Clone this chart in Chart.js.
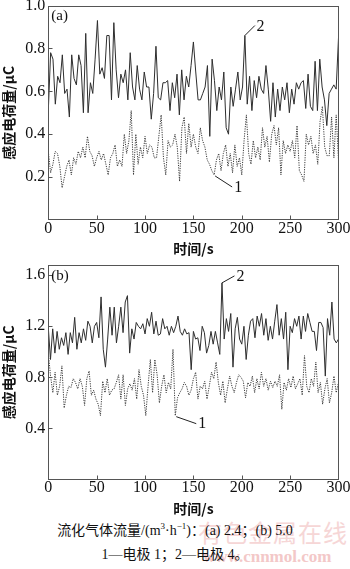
<!DOCTYPE html>
<html><head><meta charset="utf-8">
<script src="https://cdn.jsdelivr.net/npm/chart.js@4/dist/chart.umd.min.js"></script>
<style>
html,body{margin:0;padding:0;background:#fff;}
body{width:350px;height:569px;position:relative;overflow:hidden;font-family:"Liberation Serif","Noto Sans CJK SC",serif;color:#111;}
canvas{position:absolute;left:0;}
#ca{top:0;}
#cb{top:258px;}
.cap{position:absolute;left:0;width:350px;text-align:center;font-size:14px;line-height:16px;white-space:nowrap;}
.wm{position:absolute;white-space:nowrap;}
sup{font-size:9px;vertical-align:6px;line-height:0;}
</style></head>
<body>
<div class="wm" style="left:198px;top:514px;font-size:24px;letter-spacing:1px;color:#f6d6d6;font-family:'Noto Sans CJK SC';">有色金属在线</div>
<div class="wm" style="left:203px;top:547px;font-size:17px;font-weight:bold;color:#f3c8c8;">www.cnnmol.com</div>
<canvas id="ca" width="350" height="258"></canvas>
<canvas id="cb" width="350" height="262"></canvas>
<div class="cap" style="top:523px;">流化气体流量/(m<sup>3</sup>·h<sup>−1</sup>)：(a) 2.4；(b) 5.0</div>
<div class="cap" style="top:547px;">1—电极 1；2—电极 4。</div>
<script>
// ---- data ----
const timeRange = [0, 300];
const xTicks = [0, 50, 100, 150, 200, 250, 300];
const yTicksA = [0.2, 0.4, 0.6, 0.8, 1.0];
const yTicksB = [0.4, 0.8, 1.2, 1.6];
const seriesNames = ['1', '2'];

// (a) electrode 4 (curve 2, solid)
const a_curve2 = [0.51,0.78,0.75,0.54,0.67,0.64,0.77,0.59,0.61,0.48,
0.77,0.66,0.63,0.77,0.72,0.50,0.87,0.50,0.64,0.59,
0.75,0.93,0.68,0.71,0.66,0.86,0.86,0.56,0.92,0.70,
0.57,0.68,0.64,0.70,0.56,0.78,0.62,0.56,0.72,0.61,
0.56,0.69,0.62,0.62,0.47,0.59,0.81,0.57,0.56,0.64,
0.64,0.65,0.51,0.64,0.57,0.68,0.49,0.70,0.56,0.67,
0.62,0.72,0.83,0.69,0.56,0.56,0.59,0.62,0.72,0.39,
0.75,0.65,0.51,0.62,0.56,0.69,0.43,0.40,0.62,0.53,
0.61,0.69,0.56,0.62,0.86,0.54,0.67,0.51,0.65,0.57,
0.67,0.61,0.59,0.72,0.61,0.46,0.64,0.48,0.61,0.51,
0.62,0.56,0.64,0.50,0.61,0.54,0.64,0.61,0.64,0.65,
0.52,0.68,0.53,0.51,0.74,0.51,0.75,0.62,0.56,0.44,
0.59,0.61,0.63,0.61,0.85];
// (a) electrode 1 (curve 1, dotted)
const a_curve1 = [0.32,0.22,0.26,0.32,0.31,0.25,0.15,0.20,0.25,0.28,
0.21,0.29,0.26,0.32,0.29,0.34,0.29,0.39,0.32,0.30,
0.25,0.29,0.32,0.28,0.31,0.26,0.21,0.29,0.31,0.35,
0.25,0.28,0.25,0.40,0.31,0.37,0.51,0.21,0.40,0.26,
0.34,0.29,0.39,0.31,0.35,0.34,0.29,0.29,0.39,0.49,
0.29,0.21,0.37,0.34,0.35,0.40,0.34,0.18,0.43,0.48,
0.31,0.45,0.34,0.40,0.34,0.31,0.43,0.37,0.34,0.28,
0.26,0.23,0.21,0.28,0.31,0.23,0.31,0.35,0.25,0.31,
0.22,0.35,0.25,0.29,0.21,0.37,0.49,0.31,0.26,0.37,
0.29,0.34,0.28,0.43,0.34,0.39,0.27,0.40,0.44,0.35,
0.43,0.21,0.37,0.31,0.35,0.32,0.37,0.29,0.44,0.23,
0.21,0.18,0.40,0.35,0.39,0.31,0.35,0.26,0.46,0.53,
0.34,0.30,0.30,0.48,0.29,0.49,0.28];
// (b) electrode 4 (curve 2, solid)
const b_curve2 = [1.19,0.94,1.18,0.99,1.16,1.02,1.11,1.05,1.15,0.98,
1.15,1.07,1.27,1.02,1.15,1.07,1.18,1.09,1.24,1.20,
1.07,1.20,1.23,1.11,1.43,1.02,0.88,1.10,1.35,1.13,
1.35,1.07,1.20,1.35,1.15,1.39,1.44,0.99,1.18,1.10,
1.23,1.20,1.18,1.22,1.14,1.26,1.20,1.31,1.14,1.24,
1.13,1.14,1.26,1.18,1.20,1.13,1.20,1.15,1.20,1.28,
1.16,1.13,1.18,1.14,1.15,0.86,1.16,1.10,1.11,1.01,
1.20,1.15,0.99,1.05,1.16,1.06,1.16,1.07,0.98,1.54,
1.10,1.26,1.16,1.30,0.88,1.18,1.27,1.10,1.06,1.20,
0.94,1.13,1.24,1.26,1.11,1.28,1.20,1.30,1.13,1.26,
1.09,1.20,1.10,1.24,1.37,1.13,1.26,1.10,1.31,0.86,
1.20,1.15,1.26,1.20,1.28,1.10,1.28,1.16,1.30,1.23,
1.16,1.16,1.01,1.23,1.23,1.19,0.81,1.26,1.13,1.39,
1.10,1.07,1.10];
// (b) electrode 1 (curve 1, dotted)
const b_curve1 = [0.99,0.81,0.68,0.84,0.66,0.73,0.89,0.56,0.66,0.73,
0.72,0.79,0.76,0.71,0.79,0.73,0.58,0.79,0.85,0.66,
0.70,0.63,0.59,0.50,0.77,0.68,0.79,0.66,0.70,0.71,
0.76,0.82,0.63,0.82,0.58,0.71,0.75,0.70,0.79,0.63,
0.86,0.73,0.66,0.50,0.73,0.94,0.68,0.94,0.82,0.60,
0.73,0.82,0.68,0.76,0.71,1.02,0.50,0.64,0.68,0.71,
0.76,0.73,0.66,0.70,0.79,0.84,0.63,0.73,0.71,0.77,
0.63,0.73,0.84,0.79,0.92,0.76,0.66,0.77,0.60,0.71,
0.81,0.73,0.68,0.76,0.82,0.80,0.77,0.64,0.76,0.73,
0.81,0.68,0.79,0.71,0.84,0.73,0.79,0.70,0.77,0.72,
0.77,0.73,0.82,0.55,0.76,0.70,0.79,0.72,0.81,0.71,
0.75,0.79,0.66,0.97,0.73,0.68,0.79,0.73,0.92,0.68,
0.76,0.59,0.71,0.79,0.60,0.68,0.81,0.68,0.76];

// evenly sampled over the time range
function toPoints(vals){
  const n = vals.length, t0 = timeRange[0], t1 = timeRange[1];
  return vals.map((v,i)=>({x: t0 + i*(t1-t0)/(n-1), y: v}));
}

const SERIF = "'Liberation Serif','Times New Roman',serif";
const CJK = "'Noto Sans CJK SC','Liberation Serif',sans-serif";

const framePlugin = {
  id: 'frame',
  afterDatasetsDraw(chart, args, opts){
    const {ctx, chartArea:a, scales:{x, y}} = chart;
    ctx.save();
    ctx.strokeStyle = '#555'; ctx.lineWidth = 1;
    const L = Math.round(a.left)+0.5, T = Math.round(a.top)+0.5, R = Math.round(a.right)-0.5, B = Math.round(a.bottom)-0.5;
    ctx.strokeRect(L, T, R-L, B-T);
    ctx.beginPath();
    opts.xt.forEach(v=>{ if (v<=x.min || v>=x.max) return; const px = Math.round(x.getPixelForValue(v))+0.5; ctx.moveTo(px,B); ctx.lineTo(px,B-4); });
    opts.yt.forEach(v=>{ const py = Math.round(y.getPixelForValue(v))+0.5; ctx.moveTo(L,py); ctx.lineTo(L+4,py); });
    ctx.stroke();
    // panel label
    ctx.fillStyle = '#111';
    ctx.font = '15px ' + SERIF;
    ctx.textAlign = 'left'; ctx.textBaseline = 'middle';
    ctx.fillText(opts.panel, a.left + 3, a.top + opts.panelDy);
    // curve annotations anchored to data points
    ctx.font = '16px ' + SERIF;
    ctx.strokeStyle = '#222';
    opts.notes.forEach(n=>{
      const el = chart.getDatasetMeta(n.ds).data[n.idx];
      const px = el.x, py = el.y;
      ctx.beginPath(); ctx.moveTo(px + n.sx, py + n.sy); ctx.lineTo(px + n.lx, py + n.ly); ctx.stroke();
      ctx.fillText(n.text, px + n.tx, py + n.ty);
    });
    ctx.restore();
  }
};

function makeChart(id, c1, c2, yMax, yStep, yt, panel, panelDy, padTop, xH, titlePadB, notes){
  return new Chart(document.getElementById(id), {
    type: 'line',
    data: { datasets: [
      { label: seriesNames[0], data: toPoints(c1), borderColor: '#3a3a3a', borderWidth: 1, borderDash: [1.2, 1.2], pointRadius: 0, tension: 0, fill: false },
      { label: seriesNames[1], data: toPoints(c2), borderColor: '#2e2e2e', borderWidth: 1, pointRadius: 0, tension: 0, fill: false }
    ]},
    options: {
      responsive: false, animation: false, events: [],
      layout: { padding: { top: padTop, right: 11.5, left: 0, bottom: 0 } },
      plugins: { legend: { display: false }, tooltip: { enabled: false },
        frame: { xt: xTicks, yt: yt, panel: panel, panelDy: panelDy, notes: notes } },
      scales: {
        x: { type: 'linear', min: timeRange[0], max: timeRange[1],
          afterFit(s){ s.height = xH; s.paddingLeft = 0; s.paddingRight = 0; },
          grid: { display: false, drawTicks: false }, border: { display: false },
          ticks: { stepSize: 50, color: '#111', font: { family: SERIF, size: 16 }, padding: -1, maxRotation: 0 },
          title: { display: true, text: '时间/s', color: '#111', font: { family: CJK, size: 14, weight: 'bold' }, padding: { top: 0, bottom: titlePadB } } },
        y: { type: 'linear', min: 0, max: yMax,
          afterFit(s){ s.width = 48.3; s.paddingTop = 0; s.paddingBottom = 0; },
          grid: { display: false, drawTicks: false }, border: { display: false },
          ticks: { stepSize: yStep, includeBounds: false, color: '#111', font: { family: SERIF, size: 16 }, padding: 3,
            callback: v => v === 0 ? '' : v.toFixed(1) },
          title: { display: true, text: '感应电荷量/μC', color: '#111', font: { family: CJK, size: 14, weight: 'bold' }, padding: { top: 0, bottom: 0 } } }
      }
    },
    plugins: [framePlugin]
  });
}

makeChart('ca', a_curve1, a_curve2, 1.0, 0.2, yTicksA, '(a)', 10.5, 5.5, 38, 0.6, [
  { ds: 1, idx: 84, text: '2', sx: 0, sy: 0, lx: 10, ly: -10, tx: 11.5, ty: -9 },
  { ds: 0, idx: 72, text: '1', sx: 1, sy: 1, lx: 18, ly: 12, tx: 20, ty: 13 }
]);
makeChart('cb', b_curve1, b_curve2, 1.68, 0.4, yTicksB, '(b)', 11, 7, 40.5, 2.6, [
  { ds: 1, idx: 79, text: '2', sx: 0, sy: 0, lx: 12.5, ly: -7, tx: 14.5, ty: -6 },
  { ds: 0, idx: 56, text: '1', sx: 1, sy: 1, lx: 21, ly: 8, tx: 23, ty: 8 }
]);
</script>
</body></html>
